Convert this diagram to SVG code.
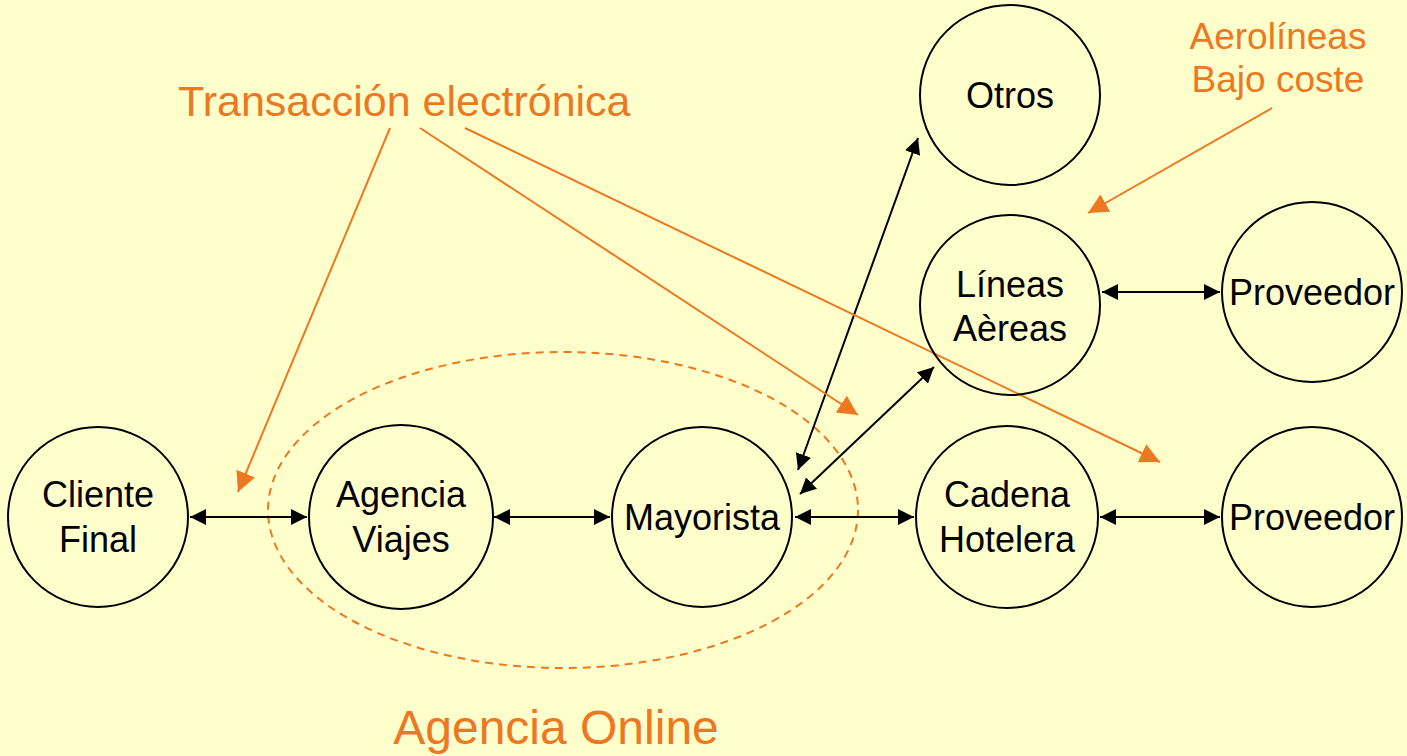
<svg xmlns="http://www.w3.org/2000/svg" width="1407" height="756" viewBox="0 0 1407 756">
<defs>
<style>
.node{fill:none;stroke:#000;stroke-width:2}
.nt{font-family:"Liberation Sans",Arial,sans-serif;font-size:36px;fill:#000;text-anchor:middle}
.ot{font-family:"Liberation Sans",Arial,sans-serif;fill:#EE7722}
.c{stroke:#000;stroke-width:2;fill:none;marker-start:url(#ab);marker-end:url(#ae)}
.o{stroke:#EE7722;stroke-width:2;fill:none;marker-end:url(#ao)}
</style>
<marker id="ae" viewBox="0 0 10 10" refX="10" refY="5" markerWidth="8" markerHeight="8" markerUnits="strokeWidth" orient="auto"><path d="M0,0L10,5L0,10z" fill="#000"/></marker>
<marker id="ab" viewBox="0 0 10 10" refX="0" refY="5" markerWidth="8" markerHeight="8" markerUnits="strokeWidth" orient="auto"><path d="M10,0L0,5L10,10z" fill="#000"/></marker>
<marker id="ao" viewBox="0 0 10 10" refX="10" refY="5" markerWidth="10" markerHeight="10" markerUnits="strokeWidth" orient="auto"><path d="M0,0L10,5L0,10z" fill="#EE7722"/></marker>
</defs>
<rect width="1407" height="756" fill="#FFFFCC"/>
<ellipse cx="563" cy="510" rx="295" ry="158" fill="none" stroke="#EE7722" stroke-width="2" stroke-dasharray="8,6"/>
<g id="connectors">
<line class="c" x1="190" y1="517" x2="307" y2="517"/>
<line class="c" x1="494" y1="517" x2="610" y2="517"/>
<line class="c" x1="795" y1="517" x2="914" y2="517"/>
<line class="c" x1="1100" y1="517" x2="1220" y2="517"/>
<line class="c" x1="1102" y1="292" x2="1220" y2="292"/>
<line class="c" x1="798" y1="470" x2="918" y2="138"/>
<line class="c" x1="800" y1="494" x2="934" y2="367"/>
<line class="o" x1="390" y1="128" x2="238" y2="492"/>
<line class="o" x1="420" y1="128" x2="858" y2="415"/>
<line class="o" x1="465" y1="128" x2="1160" y2="462"/>
<line class="o" x1="1272" y1="108" x2="1088" y2="213"/>
</g>
<g id="cliente"><circle class="node" cx="98" cy="517" r="90"/><text class="nt" x="98" y="507">Cliente</text><text class="nt" x="98" y="552">Final</text></g>
<g id="agencia"><circle class="node" cx="401" cy="517" r="92"/><text class="nt" x="401" y="507">Agencia</text><text class="nt" x="401" y="552">Viajes</text></g>
<g id="mayorista"><circle class="node" cx="702" cy="517" r="90"/><text class="nt" x="702" y="530">Mayorista</text></g>
<g id="cadena"><circle class="node" cx="1007" cy="517" r="91"/><text class="nt" x="1007" y="507">Cadena</text><text class="nt" x="1007" y="552">Hotelera</text></g>
<g id="proveedor2"><circle class="node" cx="1312" cy="517" r="90"/><text class="nt" x="1312" y="530">Proveedor</text></g>
<g id="lineas"><circle class="node" cx="1010" cy="305" r="90"/><text class="nt" x="1010" y="297">Líneas</text><text class="nt" x="1010" y="341">Aèreas</text></g>
<g id="proveedor1"><circle class="node" cx="1312" cy="292" r="90"/><text class="nt" x="1312" y="305">Proveedor</text></g>
<g id="otros"><circle class="node" cx="1010" cy="95" r="90"/><text class="nt" x="1010" y="108">Otros</text></g>
<text class="ot" x="178" y="116" font-size="43">Transacción electrónica</text>
<text class="ot" x="1278" y="49" font-size="37" text-anchor="middle">Aerolíneas</text>
<text class="ot" x="1278" y="92" font-size="37" text-anchor="middle">Bajo coste</text>
<text class="ot" x="556" y="744" font-size="48" text-anchor="middle">Agencia Online</text>
</svg>
